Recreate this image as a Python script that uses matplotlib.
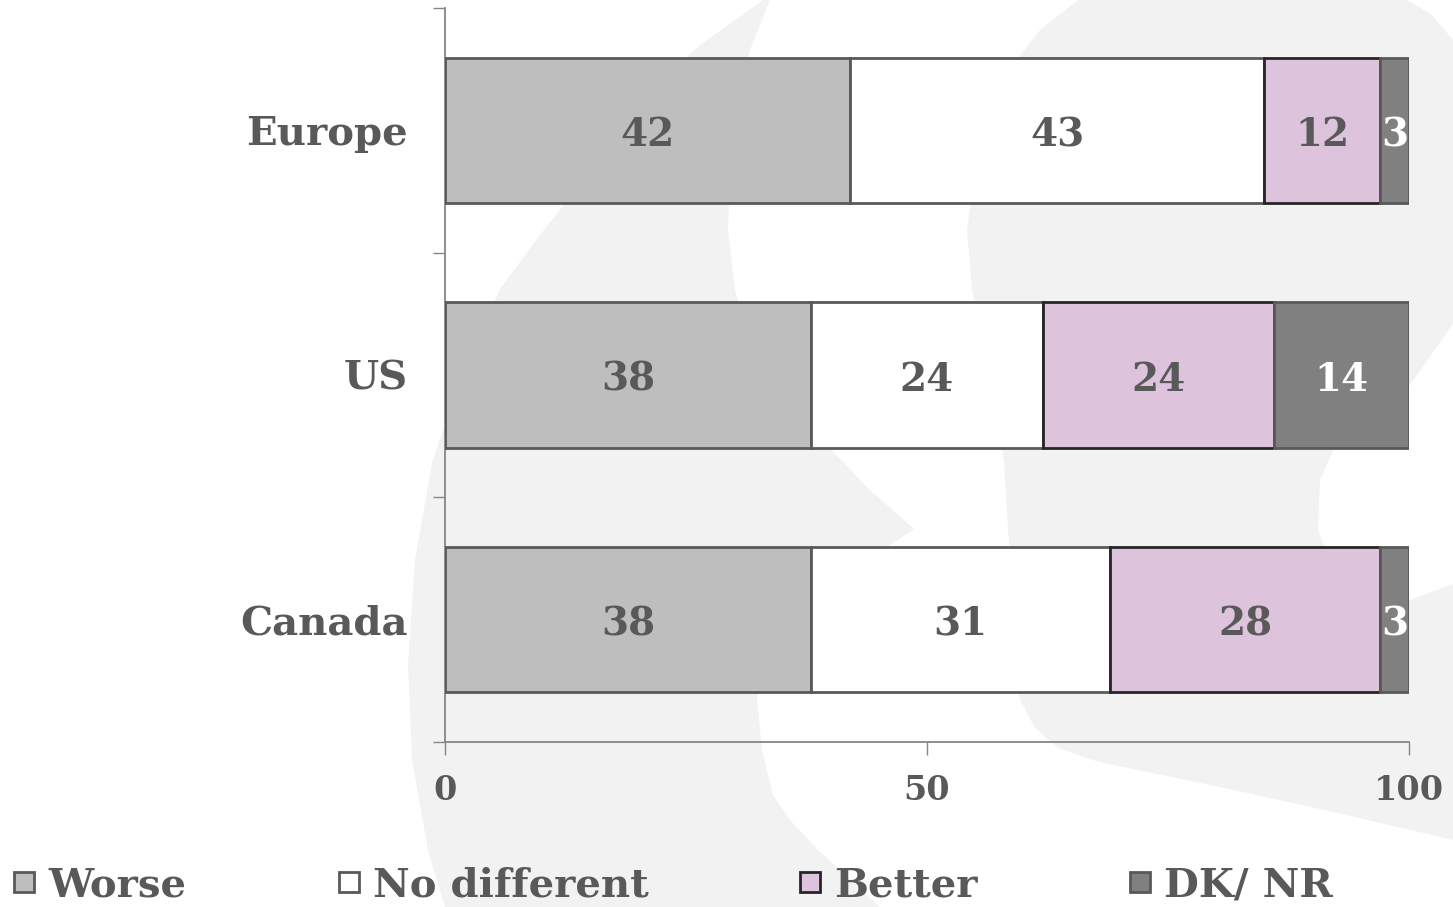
import numpy as np
import matplotlib
matplotlib.use("Agg")
import matplotlib.pyplot as plt
from matplotlib.path import Path
from matplotlib.patches import PathPatch
from matplotlib.lines import Line2D

regions = ["Europe", "US", "Canada"]
series_names = ["Worse", "No different", "Better", "DK/ NR"]
worse = [42, 38, 38]
no_different = [43, 24, 31]
better = [12, 24, 28]
dk_nr = [3, 14, 3]

fills = ["#bfbebf", "#ffffff", "#dec3dd", "#808080"]
edges = ["#595959", "#595959", "#262626", "#595959"]
label_colors = ["#595959", "#595959", "#595959", "#ffffff"]
TEXT = "#595959"
AXIS = "#868686"

plt.rcParams["font.family"] = ["DejaVu Serif"]
plt.rcParams["font.weight"] = "bold"

W, H = 1453, 907
fig = plt.figure(figsize=(W / 100, H / 100), dpi=100)


def swoosh(pts):
    # outline given in pixel space (y down) -> figure fraction
    verts = [(x / W, 1 - y / H) for x, y in pts]
    verts.append(verts[0])
    codes = [Path.MOVETO] + [Path.LINETO] * (len(verts) - 2) + [Path.CLOSEPOLY]
    patch = PathPatch(Path(verts, codes), transform=fig.transFigure,
                      facecolor="#f2f2f2", edgecolor="none", zorder=-5)
    fig.add_artist(patch)


# light watermark shapes behind the chart
swoosh([(763, 0), (700, 45), (640, 100), (588, 174), (540, 235), (500, 289),
        (462, 375), (432, 463), (415, 560), (408, 665), (412, 760), (428, 850),
        (445, 907), (880, 907), (840, 870), (818, 850), (790, 820), (773, 795),
        (762, 750), (757, 700), (762, 662), (780, 632), (830, 585), (914, 529),
        (870, 490), (816, 434), (775, 392), (749, 347), (735, 290), (728, 231),
        (730, 170), (736, 116), (750, 50), (770, 0)])
swoosh([(1078, 0), (1040, 30), (1018, 58), (990, 100), (978, 145), (967, 231),
        (972, 290), (984, 347), (996, 405), (1004, 463), (1011, 578), (1013, 660),
        (1020, 700), (1035, 728), (1058, 748), (1099, 762), (1201, 783),
        (1338, 813), (1453, 840), (1453, 584), (1410, 600), (1370, 598),
        (1335, 575), (1318, 530), (1320, 480), (1340, 435), (1375, 402),
        (1410, 385), (1453, 324), (1453, 40), (1432, 15), (1407, 0)])

ax = fig.add_axes([445 / W, 1 - 742 / H, (1409 - 445) / W, (742 - 8) / H])
ax.patch.set_alpha(0)

y = np.arange(len(regions))
left = np.zeros(len(regions))
for vals, fc, ec, tc in zip([worse, no_different, better, dk_nr], fills, edges, label_colors):
    vals = np.array(vals, dtype=float)
    ax.barh(y, vals, left=left, height=0.593, color=fc, edgecolor=ec, linewidth=2, zorder=3)
    for yi, v, l in zip(y, vals, left):
        ax.text(l + v / 2, yi + 0.02, f"{v:.0f}", ha="center", va="center",
                fontsize=28, color=tc, fontweight="bold", zorder=4)
    left += vals

ax.set_xlim(0, 100)
ax.set_ylim(len(regions) - 0.5, -0.5)
ax.set_xticks([0, 50, 100])
ax.set_yticks(np.arange(len(regions) + 1) - 0.5)
ax.set_yticklabels([])
ax.set_yticks(y, minor=True)
ax.set_yticklabels(regions, minor=True)

ax.tick_params(axis="y", which="minor", length=0, pad=27, labelsize=29, labelcolor=TEXT)
ax.tick_params(axis="y", which="major", length=9, width=1, color=AXIS)
ax.tick_params(axis="x", length=9, width=1, color=AXIS, pad=14,
               labelsize=24, labelcolor=TEXT)

for s in ["top", "right"]:
    ax.spines[s].set_visible(False)
for s in ["left", "bottom"]:
    ax.spines[s].set_color(AXIS)
    ax.spines[s].set_linewidth(1.3)

handles = [Line2D([], [], marker="s", ls="none", markersize=15, markerfacecolor=fc,
                  markeredgecolor=ec, markeredgewidth=2)
           for fc, ec in zip(fills, edges)]
fig.legend(handles, series_names, loc="lower left", bbox_to_anchor=(0.003, -0.006),
           ncol=4, frameon=False, fontsize=29, labelcolor=TEXT,
           handlelength=0.6, handletextpad=0.3, columnspacing=3.72,
           borderpad=0.2, borderaxespad=0.0)

fig.savefig("out.png", dpi=100, facecolor="white")
